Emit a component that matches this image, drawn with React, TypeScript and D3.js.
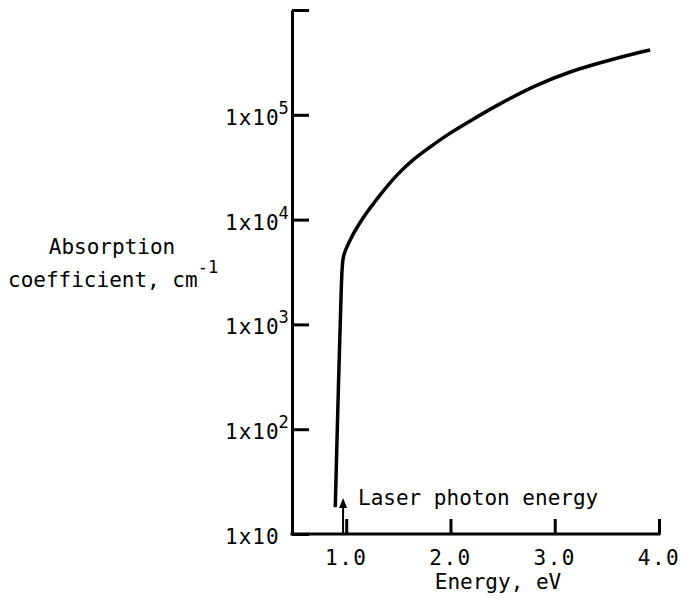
import React, { useEffect, useRef } from 'react';
import * as d3 from 'd3';

// absorption curve
const energy = [0.895, 0.914, 0.942, 0.962, 0.975, 1.038, 1.163, 1.326, 1.489, 1.642, 1.805, 1.968, 2.189, 2.505, 2.831, 3.148, 3.464, 3.79, 3.915];
const absorption = [18, 96, 960, 3500, 4500, 6400, 10400, 17200, 26700, 37100, 49300, 64000, 87300, 132000, 192000, 256000, 319000, 389000, 415000];

const xTicks = [1, 2, 3, 4];
const xTickLabels = ['1.0', '2.0', '3.0', '4.0'];
const yTicks = [10, 100, 1000, 10000, 100000, 1000000];
const yTickExp = ['', '2', '3', '4', '5'];
const laserEnergy = 0.97;

const FONT = '"DejaVu Sans Mono", "Liberation Mono", monospace';

function App() {
  const ref = useRef<SVGSVGElement | null>(null);

  useEffect(() => {
    const svg = d3.select(ref.current);
    svg.selectAll('*').remove();

    const x = d3.scaleLinear().domain([0.48, 4.0]).range([292, 659]);
    const y = d3.scaleLog().domain([10, 1e6]).range([534, 10]);

    // y axis, ticks pointing inward
    const ya = svg.append('g')
      .attr('transform', `translate(${x(0.48)},0)`)
      .call(d3.axisRight(y).tickValues(yTicks).tickSize(17).tickSizeOuter(0).tickFormat(() => ''));
    ya.selectAll('path,line').attr('stroke', '#000').attr('stroke-width', 3);

    // x axis, ticks pointing up
    const xa = svg.append('g')
      .attr('transform', `translate(0,${y(10)})`)
      .call(d3.axisTop(x).tickValues(xTicks).tickSize(15).tickSizeOuter(0).tickFormat(() => ''));
    xa.selectAll('path,line').attr('stroke', '#000').attr('stroke-width', 3);
    xa.select('path').attr('d', `M${x(0.48) - 1.5},0H${x(4.0) + 1.5}`);

    // y tick labels
    yTickExp.forEach((e, i) => {
      const t = svg.append('text')
        .attr('x', 225)
        .attr('y', y(yTicks[i]) + 10)
        .attr('font-family', FONT)
        .attr('font-size', 21)
        .attr('letter-spacing', 1)
        .attr('fill', '#000')
        .text('1x10');
      if (e) {
        t.append('tspan').attr('dy', -11).attr('font-size', 17).attr('dx', -1).text(e);
      }
    });

    // x tick labels
    xTicks.forEach((v, i) => {
      svg.append('text')
        .attr('x', x(v))
        .attr('y', 565)
        .attr('text-anchor', 'middle')
        .attr('font-family', FONT)
        .attr('font-size', 21)
        .attr('letter-spacing', 1.5)
        .attr('fill', '#000')
        .text(xTickLabels[i]);
    });

    svg.append('text')
      .attr('x', 498)
      .attr('y', 589)
      .attr('text-anchor', 'middle')
      .attr('font-family', FONT)
      .attr('font-size', 21)
      .attr('fill', '#000')
      .text('Energy, eV');

    // y axis title
    svg.append('text')
      .attr('x', 112)
      .attr('y', 254)
      .attr('text-anchor', 'middle')
      .attr('font-family', FONT)
      .attr('font-size', 21)
      .attr('fill', '#000')
      .text('Absorption');
    const t2 = svg.append('text')
      .attr('x', 8)
      .attr('y', 287)
      .attr('font-family', FONT)
      .attr('font-size', 21)
      .attr('fill', '#000')
      .text('coefficient, cm');
    t2.append('tspan').attr('dy', -14).attr('font-size', 17).text('-1');

    // curve
    const pts: [number, number][] = energy.map((e, i) => [e, absorption[i]]);
    const line = d3.line<[number, number]>()
      .x(d => x(d[0]))
      .y(d => y(d[1]))
      .curve(d3.curveCatmullRom.alpha(0.5));
    svg.append('path')
      .datum(pts)
      .attr('d', line)
      .attr('fill', 'none')
      .attr('stroke', '#000')
      .attr('stroke-width', 3.5)
      .attr('stroke-linejoin', 'round');

    // laser photon energy marker
    const ax = x(laserEnergy);
    svg.append('line')
      .attr('x1', ax).attr('x2', ax)
      .attr('y1', y(10)).attr('y2', 504)
      .attr('stroke', '#000').attr('stroke-width', 2);
    svg.append('path')
      .attr('d', `M${ax},498L${ax - 4},508L${ax + 4},508Z`)
      .attr('fill', '#000');
    svg.append('text')
      .attr('x', 358)
      .attr('y', 505)
      .attr('font-family', FONT)
      .attr('font-size', 21)
      .attr('fill', '#000')
      .text('Laser photon energy');
  }, []);

  return (
    <svg
      ref={ref}
      width={682}
      height={613}
      style={{ position: 'absolute', left: 0, top: 0, background: '#fff' }}
    />
  );
}

export default App;
